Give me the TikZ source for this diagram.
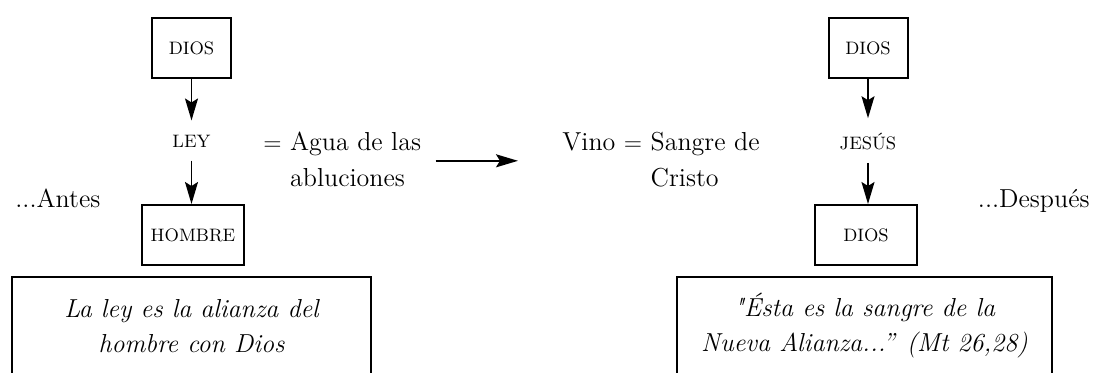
\documentclass[tikz,border=0pt]{standalone}
\usetikzlibrary{arrows.meta,positioning}
\begin{document}
\begin{tikzpicture}[x=0.5pt,y=-0.5pt,
  marco/.style={draw,line width=1pt,minimum width=39.5pt,minimum height=30pt,inner sep=0pt,font=\fontsize{9}{11}\selectfont},
  palabra/.style={inner sep=2pt,font=\fontsize{9}{11}\selectfont},
  texto/.style={inner sep=0pt,font=\fontsize{13}{18}\selectfont},
  nota/.style={inner sep=0pt,align=center,font=\fontsize{13}{17.5}\selectfont\itshape},
  flecha/.style={-{Stealth[length=11pt,width=6.5pt,inset=2pt]},line width=0.8pt}]
\clip (0,0) rectangle (1093,372);
% antes
\node[marco] (dios1) at (191.5,48) {DIOS};
\node[palabra] (ley) at (191.5,141) {LEY};
\node[marco,minimum width=51pt] (hombre) at (193,235) {HOMBRE};
\draw[flecha,shorten >=5pt] (dios1) -- (ley);
\draw[flecha,shorten <=4.5pt] (ley) -- (ley |- hombre.north);
\node[texto,anchor=base west] (antes) at (15,207) {...Antes};
\node[texto,anchor=base west] (agua) at (263,150) {$=$ \begin{tabular}[t]{@{}l@{}}Agua de las\\abluciones\end{tabular}};
% despues
\node[texto,anchor=base west] (vino) at (562,150) {Vino $=$ \begin{tabular}[t]{@{}l@{}}Sangre de\\Cristo\end{tabular}};
\draw[flecha,shorten <=7pt,shorten >=22pt] (agua) -- (vino);
\node[marco] (dios2) at (868,48) {DIOS};
\node[palabra] (jesus) at (868,141) {JESÚS};
\node[marco,minimum width=51pt] (dios3) at (866,235) {DIOS};
\draw[flecha,shorten >=5pt] (dios2) -- (jesus);
\draw[flecha,shorten <=4.5pt] (jesus) -- (jesus |- dios3.north);
\node[texto,anchor=base east] (despues) at (1090,207) {...Después};
% notas
\draw[line width=0.6pt] (12,277) rectangle (371,400);
\node[nota] (nota1) at (191.5,326) {La ley es la alianza del\\hombre con Dios};
\draw[line width=0.6pt] (677,277) rectangle (1052,400);
\node[nota] (nota2) at (864.5,326) {\textquotedbl Ésta es la sangre de la\\Nueva Alianza...'' (Mt 26,28)};
\end{tikzpicture}
\end{document}
